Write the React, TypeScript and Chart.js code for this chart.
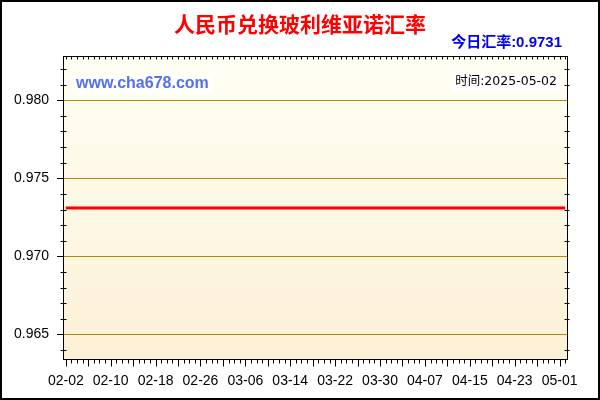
import React, { useEffect, useRef } from 'react';
import { Chart, registerables } from 'chart.js';

Chart.register(...registerables);

// daily dates, 2025-02-02 .. 2025-05-02
const dates = [
  '02-02', '02-03', '02-04', '02-05', '02-06', '02-07', '02-08', '02-09', '02-10', '02-11',
  '02-12', '02-13', '02-14', '02-15', '02-16', '02-17', '02-18', '02-19', '02-20', '02-21',
  '02-22', '02-23', '02-24', '02-25', '02-26', '02-27', '02-28', '03-01', '03-02', '03-03',
  '03-04', '03-05', '03-06', '03-07', '03-08', '03-09', '03-10', '03-11', '03-12', '03-13',
  '03-14', '03-15', '03-16', '03-17', '03-18', '03-19', '03-20', '03-21', '03-22', '03-23',
  '03-24', '03-25', '03-26', '03-27', '03-28', '03-29', '03-30', '03-31', '04-01', '04-02',
  '04-03', '04-04', '04-05', '04-06', '04-07', '04-08', '04-09', '04-10', '04-11', '04-12',
  '04-13', '04-14', '04-15', '04-16', '04-17', '04-18', '04-19', '04-20', '04-21', '04-22',
  '04-23', '04-24', '04-25', '04-26', '04-27', '04-28', '04-29', '04-30', '05-01', '05-02',
];

const rates = [
  0.9731, 0.9731, 0.9731, 0.9731, 0.9731, 0.9731, 0.9731, 0.9731, 0.9731, 0.9731,
  0.9731, 0.9731, 0.9731, 0.9731, 0.9731, 0.9731, 0.9731, 0.9731, 0.9731, 0.9731,
  0.9731, 0.9731, 0.9731, 0.9731, 0.9731, 0.9731, 0.9731, 0.9731, 0.9731, 0.9731,
  0.9731, 0.9731, 0.9731, 0.9731, 0.9731, 0.9731, 0.9731, 0.9731, 0.9731, 0.9731,
  0.9731, 0.9731, 0.9731, 0.9731, 0.9731, 0.9731, 0.9731, 0.9731, 0.9731, 0.9731,
  0.9731, 0.9731, 0.9731, 0.9731, 0.9731, 0.9731, 0.9731, 0.9731, 0.9731, 0.9731,
  0.9731, 0.9731, 0.9731, 0.9731, 0.9731, 0.9731, 0.9731, 0.9731, 0.9731, 0.9731,
  0.9731, 0.9731, 0.9731, 0.9731, 0.9731, 0.9731, 0.9731, 0.9731, 0.9731, 0.9731,
  0.9731, 0.9731, 0.9731, 0.9731, 0.9731, 0.9731, 0.9731, 0.9731, 0.9731, 0.9731,
];

const yTicks = [0.965, 0.97, 0.975, 0.98];
const yMinorTicks = [
  0.964, 0.966, 0.967, 0.968, 0.969, 0.971, 0.972, 0.973, 0.974,
  0.976, 0.977, 0.978, 0.979, 0.981, 0.982,
];
const yMin = 0.96337;
const yMax = 0.98283;

const title = '人民币兑换玻利维亚诺汇率';
const todayRate = '今日汇率:0.9731';
const siteText = 'www.cha678.com';
const timeText = '时间:2025-05-02';

const labelEvery = 8;
const tickEvery = 4;

const decorPlugin = {
  id: 'decor',
  beforeDraw(chart: any) {
    const { ctx, chartArea: a, width, height } = chart;
    ctx.save();
    ctx.fillStyle = '#ffffff';
    ctx.fillRect(0, 0, width, height);
    const g = ctx.createLinearGradient(0, a.top, 0, a.bottom);
    g.addColorStop(0, '#fffff4');
    g.addColorStop(1, '#fdf0d6');
    ctx.fillStyle = g;
    ctx.fillRect(a.left, a.top, a.right - a.left, a.bottom - a.top);
    ctx.restore();
  },
  afterDraw(chart: any) {
    const { ctx, chartArea: a, width, height } = chart;
    const x = chart.scales.x;
    const y = chart.scales.y;
    const L = Math.round(a.left) + 0.5;
    const R = Math.round(a.right) - 0.5;
    const T = Math.round(a.top) + 0.5;
    const B = Math.round(a.bottom) - 0.5;
    ctx.save();

    // plot frame
    ctx.strokeStyle = '#000';
    ctx.lineWidth = 1;
    ctx.strokeRect(L, T, R - L, B - T);

    ctx.beginPath();
    dates.forEach((_, i) => {
      const px = Math.round(x.getPixelForValue(i)) + 0.5;
      ctx.moveTo(px, B);
      ctx.lineTo(px, B + (i % tickEvery === 0 ? 7 : 4));
      ctx.moveTo(px, T);
      ctx.lineTo(px, T + 3);
    });
    yMinorTicks.forEach((v) => {
      const py = Math.round(y.getPixelForValue(v)) + 0.5;
      ctx.moveTo(L - 3, py);
      ctx.lineTo(L + 3, py);
      ctx.moveTo(R - 3, py);
      ctx.lineTo(R + 2, py);
    });
    ctx.stroke();

    // outer border
    ctx.lineWidth = 2;
    ctx.strokeRect(1, 1, width - 2, height - 2);

    // title
    ctx.textBaseline = 'middle';
    ctx.textAlign = 'center';
    ctx.fillStyle = '#ff0000';
    ctx.font = 'bold 21px "Noto Sans CJK SC", sans-serif';
    ctx.fillText(title, 300, 24);

    ctx.textAlign = 'right';
    ctx.fillStyle = '#0000ee';
    ctx.font = 'bold 15px "Liberation Sans", "Noto Sans CJK SC", sans-serif';
    ctx.fillText(todayRate, 562, 43);

    // watermark
    ctx.textAlign = 'left';
    ctx.font = 'bold 16px "Liberation Sans", Arial, sans-serif';
    const sw = ctx.measureText(siteText).width;
    ctx.fillStyle = '#ffffff';
    ctx.fillRect(73, 75, sw + 6, 18);
    ctx.fillStyle = '#5070ee';
    ctx.fillText(siteText, 76, 84);

    // time label
    ctx.textAlign = 'right';
    ctx.font = '12.5px "DejaVu Sans", "Noto Sans CJK SC", sans-serif';
    const tw = ctx.measureText(timeText).width;
    ctx.fillStyle = '#ffffff';
    ctx.fillRect(558 - tw - 4, 74, tw + 6, 17);
    ctx.fillStyle = '#000000';
    ctx.fillText(timeText, 557, 82);

    ctx.restore();
  },
};

export default function App() {
  const chartRef = useRef<HTMLCanvasElement>(null);
  const chartInstance = useRef<Chart | null>(null);

  useEffect(() => {
    if (!chartRef.current) return;
    if (chartInstance.current) chartInstance.current.destroy();
    const ctx = chartRef.current.getContext('2d');
    if (!ctx) return;

    const tickFont = { family: '"Liberation Sans", Arial, sans-serif', size: 14 };

    chartInstance.current = new Chart(ctx, {
      type: 'line',
      data: {
        labels: dates,
        datasets: [
          {
            data: rates,
            borderColor: '#ff0000',
            borderWidth: 3,
            pointRadius: 0,
            fill: false,
            tension: 0,
          },
        ],
      },
      options: {
        responsive: false,
        animation: false,
        layout: { padding: { top: 56, right: 32, left: 0, bottom: 0 } },
        plugins: {
          legend: { display: false },
          tooltip: { enabled: false },
        },
        scales: {
          x: {
            type: 'category',
            offset: true,
            grid: { display: false, drawTicks: false },
            border: { display: false },
            ticks: {
              autoSkip: false,
              maxRotation: 0,
              color: '#000',
              font: tickFont,
              padding: 13,
            },
            afterBuildTicks: (scale: any) => {
              scale.ticks = scale.ticks.filter((t: any) => t.value % labelEvery === 0);
            },
            afterFit: (scale: any) => {
              scale.height = 40;
            },
          },
          y: {
            min: yMin,
            max: yMax,
            grid: {
              color: '#b8860b',
              tickColor: '#000',
              tickLength: 6,
            },
            border: { display: false },
            ticks: {
              color: '#000',
              font: tickFont,
              padding: 8,
              callback: (v: any) => Number(v).toFixed(3),
            },
            afterBuildTicks: (scale: any) => {
              scale.ticks = yTicks.map((v) => ({ value: v }));
            },
            afterFit: (scale: any) => {
              scale.width = 63;
            },
          },
        },
      },
      plugins: [decorPlugin],
    });

    return () => {
      if (chartInstance.current) {
        chartInstance.current.destroy();
        chartInstance.current = null;
      }
    };
  }, []);

  return (
    <div style={{ position: 'fixed', left: 0, top: 0, width: 600, height: 400 }}>
      <canvas ref={chartRef} width={600} height={400}></canvas>
    </div>
  );
}
